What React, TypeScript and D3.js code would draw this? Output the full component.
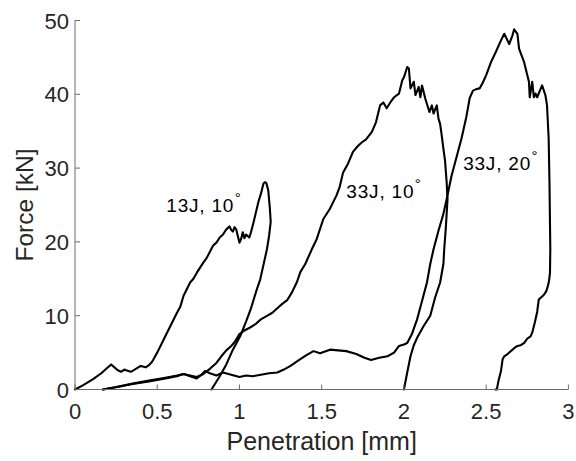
import React from "react";
import * as d3 from "d3";

// ---- data (Penetration [mm], Force [kN]) ----
const xTicks = [0, 0.5, 1, 1.5, 2, 2.5, 3];
const yTicks = [0, 10, 20, 30, 40, 50];

const pen13J10 = [0, 0.05, 0.11, 0.16, 0.19, 0.22, 0.24, 0.26, 0.28, 0.30, 0.31, 0.34, 0.37, 0.40, 0.43, 0.45, 0.47, 0.50, 0.54, 0.58, 0.62, 0.64, 0.66, 0.70, 0.72, 0.74, 0.78, 0.80, 0.84, 0.86, 0.88, 0.90, 0.92, 0.94, 0.95, 0.96, 0.97, 0.98, 0.99, 1.00, 1.01, 1.02, 1.03, 1.04, 1.06, 1.07, 1.085, 1.10, 1.115, 1.13, 1.146, 1.155, 1.163, 1.175, 1.185, 1.19, 1.18, 1.167, 1.145, 1.126, 1.106, 1.07, 1.04, 1.004, 0.96, 0.92, 0.88, 0.83];
const force13J10 = [0, 0.6, 1.4, 2.2, 2.8, 3.4, 3.0, 2.6, 2.4, 2.7, 2.6, 2.4, 2.8, 3.2, 3.0, 3.3, 3.8, 5.0, 6.8, 8.6, 10.4, 11.2, 12.7, 14.5, 15.0, 15.8, 17.2, 17.8, 19.5, 19.9, 20.6, 21.0, 21.7, 22.1, 21.6, 21.4, 22.0, 21.7, 20.8, 19.9, 20.4, 21.3, 20.5, 21.0, 20.6, 21.3, 22.6, 24.0, 25.4, 26.5, 27.9, 28.1, 28.0, 27.0, 24.5, 22.7, 20.8, 19.0, 16.8, 14.9, 13.6, 11.0, 9.2, 7.2, 5.4, 3.4, 1.8, 0];

const pen33J10 = [0.17, 0.25, 0.35, 0.45, 0.55, 0.62, 0.66, 0.70, 0.74, 0.78, 0.82, 0.86, 0.89, 0.92, 0.95, 0.97, 1.00, 1.03, 1.065, 1.10, 1.13, 1.17, 1.20, 1.23, 1.26, 1.29, 1.32, 1.35, 1.37, 1.40, 1.44, 1.47, 1.51, 1.55, 1.59, 1.61, 1.63, 1.66, 1.69, 1.72, 1.745, 1.77, 1.805, 1.83, 1.855, 1.875, 1.895, 1.92, 1.94, 1.97, 1.99, 2.00, 2.02, 2.03, 2.04, 2.06, 2.07, 2.09, 2.10, 2.11, 2.13, 2.155, 2.17, 2.18, 2.20, 2.21, 2.22, 2.23, 2.24, 2.25, 2.26, 2.265, 2.255, 2.245, 2.24, 2.22, 2.19, 2.16, 2.12, 2.08, 2.06, 2.04, 2.02, 2.00];
const force33J10 = [0, 0.35, 0.8, 1.2, 1.6, 1.9, 2.1, 1.9, 1.7, 2.1, 2.8, 3.6, 4.5, 5.3, 5.9, 6.4, 7.5, 8.0, 8.4, 8.9, 9.5, 10.0, 10.4, 11.0, 11.6, 12.1, 13.2, 14.6, 15.9, 17.0, 19.0, 20.4, 23.1, 24.5, 26.3, 27.5, 29.4, 30.6, 32.2, 33.0, 33.5, 33.9, 34.9, 36.2, 38.5, 38.9, 38.1, 39.0, 39.6, 40.1, 41.9, 42.3, 43.7, 43.5, 40.8, 41.7, 39.9, 41.0, 39.6, 41.2, 39.4, 37.6, 38.5, 37.4, 38.5, 36.7, 36.0, 34.4, 32.6, 31.0, 28.0, 25.8, 22.0, 19.0, 17.0, 14.5, 12.5, 10.0, 8.6, 7.0, 6.0, 4.5, 2.3, 0];

const pen33J20 = [0.17, 0.25, 0.35, 0.45, 0.55, 0.62, 0.66, 0.70, 0.74, 0.77, 0.79, 0.82, 0.86, 0.90, 0.95, 1.00, 1.04, 1.08, 1.13, 1.18, 1.23, 1.27, 1.31, 1.37, 1.41, 1.45, 1.49, 1.55, 1.60, 1.65, 1.71, 1.76, 1.80, 1.85, 1.90, 1.94, 1.97, 2.00, 2.02, 2.05, 2.08, 2.11, 2.14, 2.16, 2.18, 2.21, 2.24, 2.26, 2.29, 2.32, 2.35, 2.38, 2.40, 2.42, 2.44, 2.46, 2.48, 2.50, 2.53, 2.56, 2.59, 2.61, 2.64, 2.66, 2.67, 2.69, 2.70, 2.73, 2.76, 2.765, 2.78, 2.79, 2.80, 2.81, 2.84, 2.86, 2.87, 2.88, 2.885, 2.89, 2.888, 2.882, 2.875, 2.865, 2.85, 2.835, 2.82, 2.81, 2.795, 2.78, 2.77, 2.75, 2.73, 2.71, 2.69, 2.67, 2.65, 2.63, 2.61, 2.60, 2.59, 2.575, 2.565, 2.555];
const force33J20 = [0, 0.3, 0.75, 1.1, 1.5, 1.8, 2.1, 1.8, 1.5, 2.0, 2.5, 2.2, 1.9, 2.3, 2.0, 1.7, 1.9, 1.8, 2.0, 2.2, 2.3, 2.7, 3.2, 4.1, 4.7, 5.2, 4.9, 5.4, 5.3, 5.2, 4.8, 4.3, 4.0, 4.3, 4.5, 5.0, 5.9, 6.1, 6.3, 7.6, 9.5, 12.0, 14.5, 17.0, 19.0, 21.5, 23.8, 25.8, 29.0, 31.5, 34.0, 37.0, 39.5, 40.5, 40.7, 40.8, 41.6, 42.6, 44.4, 45.8, 47.3, 48.2, 46.8, 48.0, 48.8, 48.2, 46.2, 44.4, 41.7, 39.6, 41.7, 39.6, 40.1, 39.6, 41.2, 39.9, 38.5, 34.0, 28.0, 19.0, 15.8, 14.7, 14.0, 13.3, 12.8, 12.5, 12.2, 10.5, 9.0, 7.7, 7.2, 6.9, 6.3, 6.0, 5.9, 5.6, 5.2, 4.8, 4.5, 4.1, 2.5, 1.2, 0, 0];

const curveNames = ["13J, 10", "33J, 10", "33J, 20"];
const curvePens = [pen13J10, pen33J10, pen33J20];
const curveForces = [force13J10, force33J10, force33J20];
const labelPen = [0.555, 1.65, 2.36];
const labelForce = [24.1, 26.0, 29.7];

const W = 576;
const H = 461;
const FONT = "'Liberation Sans', Arial, Helvetica, sans-serif";

export default function App() {
  const x = d3.scaleLinear().domain([0, 3]).range([75, 568.4]);
  const y = d3.scaleLinear().domain([0, 50]).range([389.5, 20.5]);
  const line = d3
    .line<[number, number]>()
    .x((d) => x(d[0]))
    .y((d) => y(d[1]));

  const axisColor = "#6a6a6a";
  const textColor = "#262626";

  return (
    <svg
      width={W}
      height={H}
      style={{ position: "absolute", left: 0, top: 0, background: "#fff" }}
      fontFamily={FONT}
    >
      <rect x={0} y={0} width={W} height={H} fill="#fff" />
      {/* curves */}
      {curvePens.map((pens, i) => {
        const pts = pens.map((p, k) => [p, curveForces[i][k]] as [number, number]);
        return (
          <path
            key={i}
            d={line(pts) || ""}
            fill="none"
            stroke="#000"
            strokeWidth={2.1}
            strokeLinejoin="round"
            strokeLinecap="round"
          />
        );
      })}
      {/* axes */}
      <line x1={x(0)} x2={x(3)} y1={y(0)} y2={y(0)} stroke={axisColor} strokeWidth={1} />
      <line x1={x(0)} x2={x(0)} y1={y(0)} y2={y(50)} stroke={axisColor} strokeWidth={1} />
      {xTicks.map((t) => (
        <g key={"xt" + t}>
          <line x1={x(t)} x2={x(t)} y1={y(0)} y2={y(0) - 5} stroke={axisColor} strokeWidth={1} />
          <text
            x={x(t)}
            y={y(0) + 29}
            textAnchor="middle"
            fontSize={22}
            fill={textColor}
          >
            {String(t)}
          </text>
        </g>
      ))}
      {yTicks.map((t) => (
        <g key={"yt" + t}>
          <line x1={x(0)} x2={x(0) + 5} y1={y(t)} y2={y(t)} stroke={axisColor} strokeWidth={1} />
          <text
            x={x(0) - 6}
            y={y(t) + 8}
            textAnchor="end"
            fontSize={22}
            fill={textColor}
          >
            {String(t)}
          </text>
        </g>
      ))}
      <text x={(x(0) + x(3)) / 2} y={450} textAnchor="middle" fontSize={25} fill={textColor}>
        Penetration [mm]
      </text>
      <text
        transform={`translate(33, ${y(25)}) rotate(-90)`}
        textAnchor="middle"
        fontSize={24.5}
        fill={textColor}
      >
        Force [kN]
      </text>
      {/* annotations */}
      {curveNames.map((n, i) => (
        <text
          key={"lab" + i}
          x={x(labelPen[i])}
          y={y(labelForce[i])}
          fontSize={19}
          letterSpacing={0.8}
          fill="#000"
        >
          {n}
          <tspan fontSize={15} dx={0.5} dy={-9} letterSpacing={0}>
            °
          </tspan>
        </text>
      ))}
    </svg>
  );
}
